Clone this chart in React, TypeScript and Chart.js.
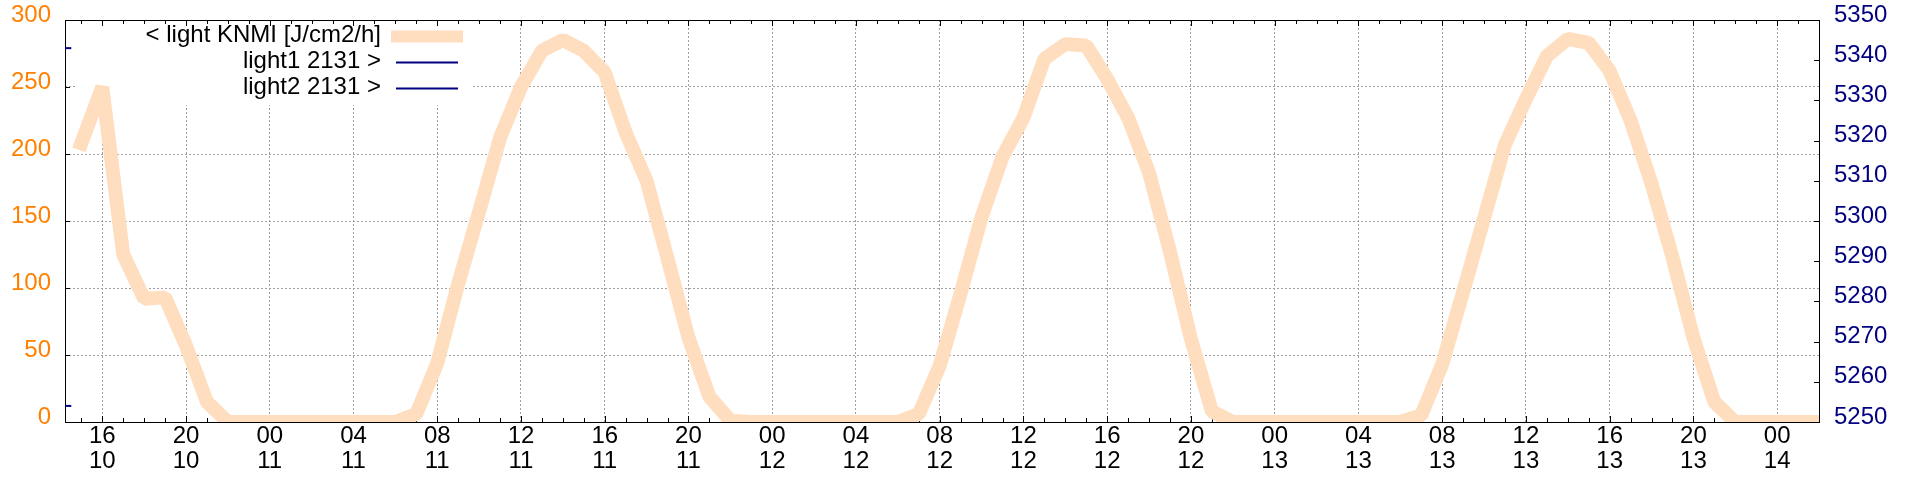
import React, { useEffect, useRef } from "react";
import { Chart, registerables } from "chart.js";

Chart.register(...registerables);

// hourly samples, hours counted from the 10th 00:00; first sample is 10th 15:00
const firstHour = 15;
const lightDay10 = [208, 250, 125, 92, 93, 57, 15, 0, 0];
const lightDay11 = [0, 0, 0, 0, 0, 0, 0, 6, 44, 103, 157, 212, 250, 277, 285, 277, 261, 216, 180, 122, 63, 19, 1, 0];
const lightDay12 = [0, 0, 0, 0, 0, 0, 0, 6, 42, 96, 153, 198, 227, 271, 282, 281, 256, 227, 186, 127, 62, 8, 0, 0];
const lightDay13 = [0, 0, 0, 0, 0, 0, 0, 5, 43, 97, 152, 207, 241, 273, 286, 283, 262, 225, 178, 123, 63, 15, 0, 0];
const lightDay14 = [0, 0, 0];

// light1 / light2 only show a tiny stub at the left edge
const light1Hours = [14.18, 14.52];
const light1Values = [5343, 5343];
const light2Hours = [14.18, 14.52];
const light2Values = [5254, 5254];

const xMin = 14.22;
const xMax = 98;
const xTickHours = [16, 20, 24, 28, 32, 36, 40, 44, 48, 52, 56, 60, 64, 68, 72, 76, 80, 84, 88, 92, 96];
const xTickLabels = [
  ["16", "10"], ["20", "10"],
  ["00", "11"], ["04", "11"], ["08", "11"], ["12", "11"], ["16", "11"], ["20", "11"],
  ["00", "12"], ["04", "12"], ["08", "12"], ["12", "12"], ["16", "12"], ["20", "12"],
  ["00", "13"], ["04", "13"], ["08", "13"], ["12", "13"], ["16", "13"], ["20", "13"],
  ["00", "14"],
];

const PEACH = "#ffdec0";
const ORANGE = "#ff8000";
const NAVY = "#000080";
const GRID = "#a0a0a0";
const FONT = "'Liberation Sans', Arial, Helvetica, sans-serif";

Chart.defaults.font.family = FONT;

// white key box, frame and tick marks (drawn under the data lines)
const framePlugin = {
  id: "frame",
  beforeDatasetsDraw(chart: any) {
    const { ctx, chartArea: a, scales } = chart;
    ctx.save();
    ctx.fillStyle = "#ffffff";
    ctx.fillRect(a.left + 12, a.top + 1, 396, 84);

    ctx.strokeStyle = "#000000";
    ctx.lineWidth = 1;
    ctx.strokeRect(a.left + 0.5, a.top + 0.5, a.right - a.left, a.bottom - a.top);

    ctx.beginPath();
    const xs = scales.x;
    for (let h = Math.ceil(xs.min); h <= xs.max; h++) {
      const px = Math.round(xs.getPixelForValue(h)) + 0.5;
      const len = h % 4 === 0 ? 6 : 4;
      ctx.moveTo(px, a.bottom);
      ctx.lineTo(px, a.bottom - len);
      ctx.moveTo(px, a.top);
      ctx.lineTo(px, a.top + len);
    }
    const y2 = scales.y2;
    for (let v = y2.min; v <= y2.max; v += 10) {
      const py = Math.round(y2.getPixelForValue(v)) + 0.5;
      ctx.moveTo(a.right, py);
      ctx.lineTo(a.right - 5, py);
    }
    const y = scales.y;
    for (let v = y.min; v <= y.max; v += 50) {
      const py = Math.round(y.getPixelForValue(v)) + 0.5;
      ctx.moveTo(a.left, py);
      ctx.lineTo(a.left + 5, py);
    }
    ctx.stroke();
    ctx.restore();
  },
};

// gnuplot style key: right aligned text, sample line on the right
const keyPlugin = {
  id: "key",
  afterDatasetsDraw(chart: any) {
    const { ctx, chartArea: a } = chart;
    ctx.save();
    ctx.font = `24px ${FONT}`;
    ctx.textAlign = "right";
    ctx.textBaseline = "alphabetic";
    chart.data.datasets.forEach((ds: any, i: number) => {
      const base = a.top + 22 + i * 26;
      ctx.fillStyle = "#000000";
      ctx.fillText(ds.label, a.left + 316, base);
      const inset = i === 0 ? 0 : 5;
      ctx.strokeStyle = ds.borderColor;
      ctx.lineWidth = i === 0 ? 12 : 2;
      ctx.lineCap = "butt";
      ctx.beginPath();
      ctx.moveTo(a.left + 326 + inset, base - 5.5);
      ctx.lineTo(a.left + 398 - inset, base - 5.5);
      ctx.stroke();
    });
    ctx.restore();
  },
};

const fixWidth = (w: number) => (s: any) => {
  s.width = w;
  s.paddingTop = 0;
  s.paddingBottom = 0;
};

const App: React.FC = () => {
  const chartRef = useRef<HTMLCanvasElement | null>(null);
  const chartInstance = useRef<Chart | null>(null);

  useEffect(() => {
    document.body.style.margin = "0";
    if (!chartRef.current) return;
    const ctx = chartRef.current.getContext("2d");
    if (!ctx) return;

    if (chartInstance.current) {
      chartInstance.current.destroy();
    }

    const lightValues = [...lightDay10, ...lightDay11, ...lightDay12, ...lightDay13, ...lightDay14];
    const knmi = lightValues.map((v, i) => ({ x: firstHour + i, y: v }));
    const light1 = light1Hours.map((h, i) => ({ x: h, y: light1Values[i] }));
    const light2 = light2Hours.map((h, i) => ({ x: h, y: light2Values[i] }));

    chartInstance.current = new Chart(ctx, {
      type: "line",
      data: {
        datasets: [
          {
            label: "< light KNMI [J/cm2/h]",
            data: knmi,
            yAxisID: "y",
            borderColor: PEACH,
            backgroundColor: PEACH,
            borderWidth: 14,
            borderCapStyle: "square",
            borderJoinStyle: "bevel",
            pointRadius: 0,
            tension: 0,
          },
          {
            label: "light1 2131 >",
            data: light1,
            yAxisID: "y2",
            borderColor: NAVY,
            borderWidth: 2,
            pointRadius: 0,
          },
          {
            label: "light2 2131 >",
            data: light2,
            yAxisID: "y2",
            borderColor: NAVY,
            borderWidth: 2,
            pointRadius: 0,
          },
        ],
      },
      options: {
        responsive: false,
        animation: false,
        devicePixelRatio: 1,
        layout: { padding: { top: 20, left: 0, right: 0, bottom: 0 } },
        plugins: {
          legend: { display: false },
          tooltip: { enabled: false },
        },
        scales: {
          x: {
            type: "linear",
            position: "bottom",
            min: xMin,
            max: xMax,
            afterBuildTicks: (s: any) => {
              s.ticks = xTickHours.map((v) => ({ value: v }));
            },
            afterFit: (s: any) => {
              s.height = 58;
            },
            grid: { color: GRID, lineWidth: 1, drawTicks: false },
            border: { display: false, dash: [2, 2] },
            ticks: {
              autoSkip: false,
              maxRotation: 0,
              padding: 2,
              color: "#000000",
              font: { size: 24, lineHeight: "25px" },
              callback: (_v: any, i: number) => xTickLabels[i],
            },
          },
          y: {
            position: "left",
            min: 0,
            max: 300,
            afterFit: fixWidth(65),
            grid: { color: GRID, lineWidth: 1, drawTicks: false },
            border: { display: false, dash: [2, 2] },
            ticks: {
              stepSize: 50,
              color: ORANGE,
              padding: 14,
              labelOffset: -5,
              font: { size: 24 },
              callback: (v: any) => String(v),
            },
          },
          y2: {
            position: "right",
            min: 5250,
            max: 5350,
            afterFit: fixWidth(101),
            grid: { drawOnChartArea: false, drawTicks: false },
            border: { display: false },
            ticks: {
              stepSize: 10,
              color: NAVY,
              padding: 15,
              labelOffset: -5,
              font: { size: 24 },
              callback: (v: any) => String(v),
            },
          },
        },
      },
      plugins: [framePlugin, keyPlugin],
    });

    return () => {
      if (chartInstance.current) {
        chartInstance.current.destroy();
        chartInstance.current = null;
      }
    };
  }, []);

  return (
    <div style={{ width: 1920, height: 480 }}>
      <canvas ref={chartRef} width={1920} height={480}></canvas>
    </div>
  );
};

export default App;
